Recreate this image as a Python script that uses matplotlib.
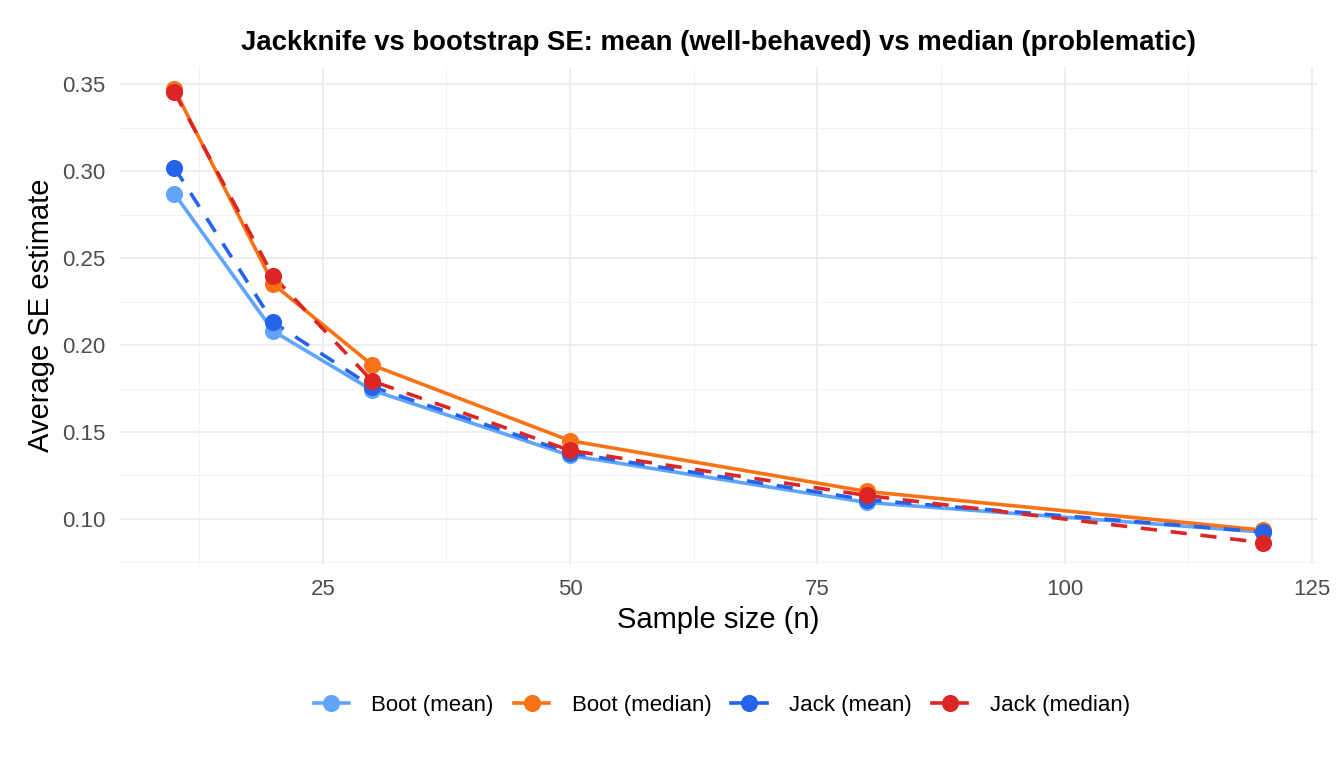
import numpy as np
import matplotlib.pyplot as plt
from matplotlib.ticker import MultipleLocator

plt.rcParams['font.family'] = ['Liberation Sans', 'DejaVu Sans']

# sample sizes and average SE estimates
n = [10, 20, 30, 50, 80, 120]
boot_mean = [0.287, 0.208, 0.174, 0.1365, 0.1095, 0.0925]
boot_median = [0.3471, 0.235, 0.1885, 0.145, 0.1158, 0.0936]
jack_mean = [0.302, 0.213, 0.176, 0.138, 0.111, 0.0925]
jack_median = [0.3455, 0.2395, 0.1793, 0.1394, 0.1135, 0.0864]

series = [
    ('Boot (mean)', boot_mean, '#60A5FA', '-'),
    ('Boot (median)', boot_median, '#F97316', '-'),
    ('Jack (mean)', jack_mean, '#2563EB', (0, (4.5, 3.8))),
    ('Jack (median)', jack_median, '#DC2626', (0, (4.5, 3.8))),
]

fig = plt.figure(figsize=(13.44, 7.68), dpi=100)
ax = fig.add_axes([120 / 1344, 1 - 564 / 768, 1197 / 1344, 497.3 / 768])

# lines first, then the points on top
for label, vals, col, ls in series:
    ax.plot(n, vals, color=col, linestyle=ls, linewidth=2.6, zorder=3)
for label, vals, col, ls in series:
    ax.plot(n, vals, color=col, linestyle='none', marker='o', markersize=11.3, zorder=4)

handles = [plt.Line2D([], [], color=col, linestyle='-', linewidth=2.6, marker='o', markersize=11.3)
           for label, vals, col, ls in series]
labels = [s[0] for s in series]

ax.set_xlim(4.5, 125.5)
ax.set_ylim(0.0741, 0.3601)
ax.xaxis.set_minor_locator(MultipleLocator(12.5))
ax.yaxis.set_minor_locator(MultipleLocator(0.025))
ax.set_xticks([25, 50, 75, 100, 125])
ax.set_yticks([0.10, 0.15, 0.20, 0.25, 0.30, 0.35])
ax.set_yticklabels(['0.10', '0.15', '0.20', '0.25', '0.30', '0.35'])

ax.grid(which='major', color='#EBEBEB', linewidth=1.2, zorder=0)
ax.grid(which='minor', color='#F2F2F2', linewidth=0.7, zorder=0)
ax.set_axisbelow(True)
for sp in ax.spines.values():
    sp.set_visible(False)
ax.tick_params(which='both', length=0, labelsize=16, labelcolor='#4D4D4D')
ax.tick_params(axis='x', pad=11)
ax.tick_params(axis='y', pad=10.5)

ax.set_xlabel('Sample size (n)', fontsize=21, labelpad=4)
ax.set_ylabel('Average SE estimate', fontsize=21, labelpad=5)
ax.set_title('Jackknife vs bootstrap SE: mean (well-behaved) vs median (problematic)',
             fontsize=19.8, fontweight='bold', pad=12)

fig.legend(handles, labels, loc='center', bbox_to_anchor=(0.537, 0.082), ncol=4,
           frameon=False, fontsize=16, handlelength=1.6, columnspacing=0.9, handletextpad=1.0)

fig.savefig('out.png', dpi=100)
